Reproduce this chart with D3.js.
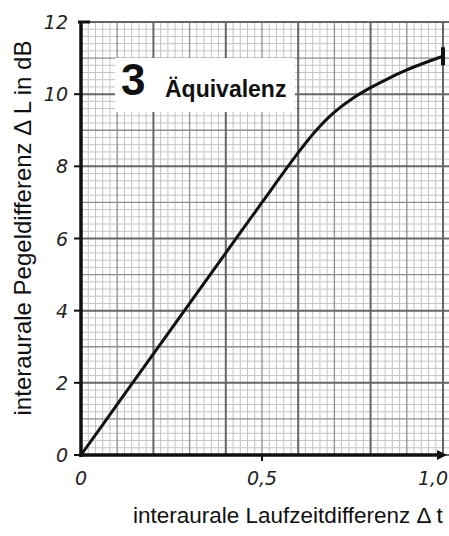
<!DOCTYPE html>
<html>
<head>
<meta charset="utf-8">
<script src="https://cdn.jsdelivr.net/npm/d3@7"></script>
<style>
  html, body { margin: 0; padding: 0; background: #fff; overflow: hidden; }
  svg { display: block; }
</style>
</head>
<body>
<div id="chart"></div>
<script>
// ---- data ----
const delayValues = [0, 0.1, 0.2, 0.3, 0.4, 0.5, 0.6, 0.65, 0.7, 0.75, 0.8, 0.85, 0.9, 0.95, 1.0];
const levelValues = [0, 1.4, 2.8, 4.2, 5.6, 7.0, 8.38, 9.0, 9.5, 9.88, 10.18, 10.44, 10.67, 10.87, 11.05];
const yTickValues = [0, 2, 4, 6, 8, 10, 12];
const xTickValues = [0, 0.5, 1.0];
const xTickLabels = ["0", "0,5", "1,0"];
const titleNumber = "3";
const titleText = "Äquivalenz";
const yAxisTitle = "interaurale Pegeldifferenz Δ L in dB";
const xAxisTitle = "interaurale Laufzeitdifferenz Δ t";

// ---- layout ----
const W = 449, H = 536;
const svg = d3.select("#chart").append("svg").attr("width", W).attr("height", H);

const x = d3.scaleLinear().domain([0, 1]).range([81, 443]);
const y = d3.scaleLinear().domain([0, 12]).range([455, 22]);

// ---- graph paper grid ----
const grid = svg.append("g");
const xMaxGrid = 1.02;
const xFine = d3.range(0, xMaxGrid + 1e-9, 0.02);
const yFine = d3.range(0, 12 + 1e-9, 0.2);
function lvlX(v) { const k = Math.round(v / 0.02); return k % 10 === 0 ? 2 : (k % 5 === 0 ? 1 : 0); }
function lvlY(v) { const k = Math.round(v / 0.2); return k % 10 === 0 ? 2 : (k % 5 === 0 ? 1 : 0); }
const strokeCol = ["#c4c4c4", "#8e8e8e", "#666"];
const strokeW = [1, 1.3, 2];
[0, 1, 2].forEach(level => {
  grid.selectAll(null).data(xFine.filter(v => lvlX(v) === level)).enter().append("line")
    .attr("x1", d => x(d)).attr("x2", d => x(d))
    .attr("y1", y(12)).attr("y2", y(0))
    .attr("stroke", strokeCol[level]).attr("stroke-width", strokeW[level]);
  grid.selectAll(null).data(yFine.filter(v => lvlY(v) === level)).enter().append("line")
    .attr("x1", x(0)).attr("x2", x(xMaxGrid))
    .attr("y1", d => y(d)).attr("y2", d => y(d))
    .attr("stroke", strokeCol[level]).attr("stroke-width", strokeW[level]);
});

// ---- title box ----
svg.append("rect").attr("x", 115).attr("y", 58).attr("width", 180).attr("height", 54).attr("fill", "#fff");
svg.append("text").attr("x", 121).attr("y", 95)
  .attr("font-family", "Liberation Sans, Arial, sans-serif").attr("font-weight", "bold")
  .attr("font-size", 44).attr("fill", "#111").text(titleNumber);
svg.append("text").attr("x", 165).attr("y", 97)
  .attr("font-family", "Liberation Sans, Arial, sans-serif").attr("font-weight", "bold")
  .attr("font-size", 23).attr("fill", "#111").text(titleText);

// ---- curve ----
const pts = delayValues.map((d, i) => [d, levelValues[i]]);
const line = d3.line().x(d => x(d[0])).y(d => y(d[1])).curve(d3.curveCatmullRom.alpha(0.5));
svg.append("path").attr("d", line(pts)).attr("fill", "none")
  .attr("stroke", "#111").attr("stroke-width", 3).attr("stroke-linecap", "round");
// end marker
const last = pts[pts.length - 1];
svg.append("line").attr("x1", x(last[0])).attr("x2", x(last[0]))
  .attr("y1", y(last[1]) - 9).attr("y2", y(last[1]) + 9)
  .attr("stroke", "#111").attr("stroke-width", 4);

// ---- axes ----
const axes = svg.append("g");
axes.append("line").attr("x1", x(0)).attr("x2", x(0)).attr("y1", y(12)).attr("y2", y(0) + 2)
  .attr("stroke", "#111").attr("stroke-width", 3.5);
axes.append("line").attr("x1", x(0) - 2).attr("x2", x(1) - 2).attr("y1", y(0)).attr("y2", y(0))
  .attr("stroke", "#111").attr("stroke-width", 3.5);
axes.append("path")
  .attr("d", `M${x(1) - 6},${y(0) - 5} L${x(1) + 4},${y(0)} L${x(1) - 6},${y(0) + 5} Z`)
  .attr("fill", "#111");
axes.append("line").attr("x1", x(0) - 3).attr("x2", x(0) + 9).attr("y1", y(12)).attr("y2", y(12))
  .attr("stroke", "#111").attr("stroke-width", 3);

const tickFont = "DejaVu Sans, sans-serif";
const yT = axes.selectAll(".yt").data(yTickValues).enter().append("g");
yT.filter(d => d !== 12).append("line")
  .attr("x1", x(0) - 7).attr("x2", x(0)).attr("y1", d => y(d)).attr("y2", d => y(d))
  .attr("stroke", "#111").attr("stroke-width", 2);
yT.append("text").attr("x", x(0) - 13).attr("y", d => y(d) + 7)
  .attr("text-anchor", "end").attr("font-family", tickFont).attr("font-weight", 200)
  .attr("font-style", "italic").attr("font-size", 19).attr("fill", "#222").text(d => d);

const xT = axes.selectAll(".xt").data(xTickValues).enter().append("g");
xT.filter((d, i) => i === 1).append("line")
  .attr("x1", d => x(d)).attr("x2", d => x(d)).attr("y1", y(0)).attr("y2", y(0) + 6)
  .attr("stroke", "#111").attr("stroke-width", 2);
xT.append("text").attr("x", (d, i) => x(d) - (i === 2 ? 10 : 0)).attr("y", 485)
  .attr("text-anchor", "middle").attr("font-family", tickFont).attr("font-weight", 200)
  .attr("font-style", "italic").attr("font-size", 19).attr("fill", "#222")
  .text((d, i) => xTickLabels[i]);

// ---- axis titles ----
svg.append("text")
  .attr("transform", "translate(31,228) rotate(-90)")
  .attr("text-anchor", "middle")
  .attr("font-family", "Liberation Sans, Arial, sans-serif")
  .attr("font-size", 24).attr("fill", "#111").text(yAxisTitle);
svg.append("text").attr("x", 133).attr("y", 523)
  .attr("font-family", "Liberation Sans, Arial, sans-serif")
  .attr("font-size", 22.5).attr("fill", "#111").text(xAxisTitle);
</script>
</body>
</html>
